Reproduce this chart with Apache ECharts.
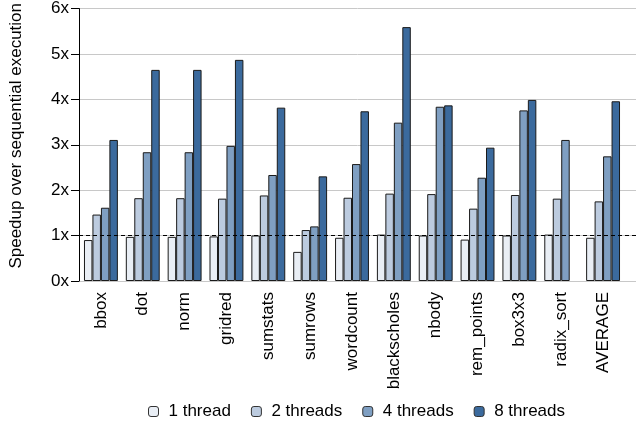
<!DOCTYPE html>
<html><head><meta charset="utf-8">
<script src="https://cdn.jsdelivr.net/npm/echarts@6/dist/echarts.min.js"></script>
<style>html,body{margin:0;padding:0;background:#fff}#c{width:637px;height:429px}</style>
</head><body><div id="c"></div>
<script>
const categories = ['bbox','dot','norm','gridred','sumstats','sumrows','wordcount','blackscholes','nbody','rem_points','box3x3','radix_sort','AVERAGE'];
const seriesNames = ['1 thread','2 threads','4 threads','8 threads'];
const t1 = [0.90,0.97,0.97,0.98,1.00,0.64,0.95,1.02,1.00,0.91,1.00,1.02,0.95];
const t2 = [1.46,1.82,1.82,1.81,1.88,1.12,1.83,1.92,1.91,1.59,1.89,1.81,1.75];
const t4 = [1.61,2.83,2.83,2.97,2.33,1.20,2.57,3.48,3.83,2.27,3.75,3.10,2.74];
const t8 = [3.10,4.64,4.64,4.86,3.81,2.30,3.73,5.58,3.86,2.93,3.98,null,3.95];
const colors = ['#e9eef5','#bccbdf','#7f9fc2','#3b6a9d'];
const yTicks = [0,1,2,3,4,5,6];

const font = 'Liberation Sans, Arial, sans-serif';
const chart = echarts.init(document.getElementById('c'), null, {renderer:'canvas'});
const allData = [t1,t2,t4,t8];
chart.setOption({
  animation:false,
  textStyle:{fontFamily:font},
  grid:[
    {left:62, right:1, top:8, bottom:148},
    {left:80, right:13, top:8, bottom:148}
  ],
  legend:{
    bottom:4, left:143, itemWidth:10, itemHeight:10, itemGap:20,
    textStyle:{fontSize:17, color:'#000', fontFamily:font, padding:[0,0,0,5]},
    data:seriesNames.map((n,i)=>({name:n, itemStyle:{color:colors[i], borderColor:'#333', borderWidth:1}}))
  },
  xAxis:[
    {gridIndex:0, type:'value', min:0, max:1, show:false},
    {gridIndex:1, type:'category', data:categories,
     axisLine:{show:false}, axisTick:{show:false},
     axisLabel:{rotate:90, fontSize:17, color:'#000', margin:11, interval:0, fontFamily:font}}
  ],
  yAxis:[
    {gridIndex:0, type:'value', min:0, max:6, interval:1,
     name:'Speedup over sequential execution', nameLocation:'middle', nameGap:54,
     nameTextStyle:{fontSize:17, color:'#000', fontFamily:font, padding:[0,0,0,18]},
     axisLine:{show:true, lineStyle:{color:'#000', width:1}},
     axisTick:{show:true, length:8, lineStyle:{color:'#000'}},
     axisLabel:{formatter:v=>v+'x', fontSize:17, color:'#000', margin:10, fontFamily:font},
     splitLine:{show:true, lineStyle:{color:'#c8c8c8', width:1}}},
    {gridIndex:1, type:'value', min:0, max:6, interval:1, show:false, splitLine:{show:false}}
  ],
  series:[
    {type:'line', xAxisIndex:0, yAxisIndex:0, data:[], silent:true,
     markLine:{symbol:'none', silent:true, label:{show:false},
       lineStyle:{color:'#000', type:[4,3], width:1},
       data:[{yAxis:1}]}},
    ...seriesNames.map((n,i)=>({
      name:n, type:'bar', xAxisIndex:1, yAxisIndex:1, data:allData[i],
      barGap:'0%', barCategoryGap:'19%', z:1,
      itemStyle:{color:colors[i], borderColor:'#1a1a1a', borderWidth:1}
    }))
  ]
});
</script></body></html>
